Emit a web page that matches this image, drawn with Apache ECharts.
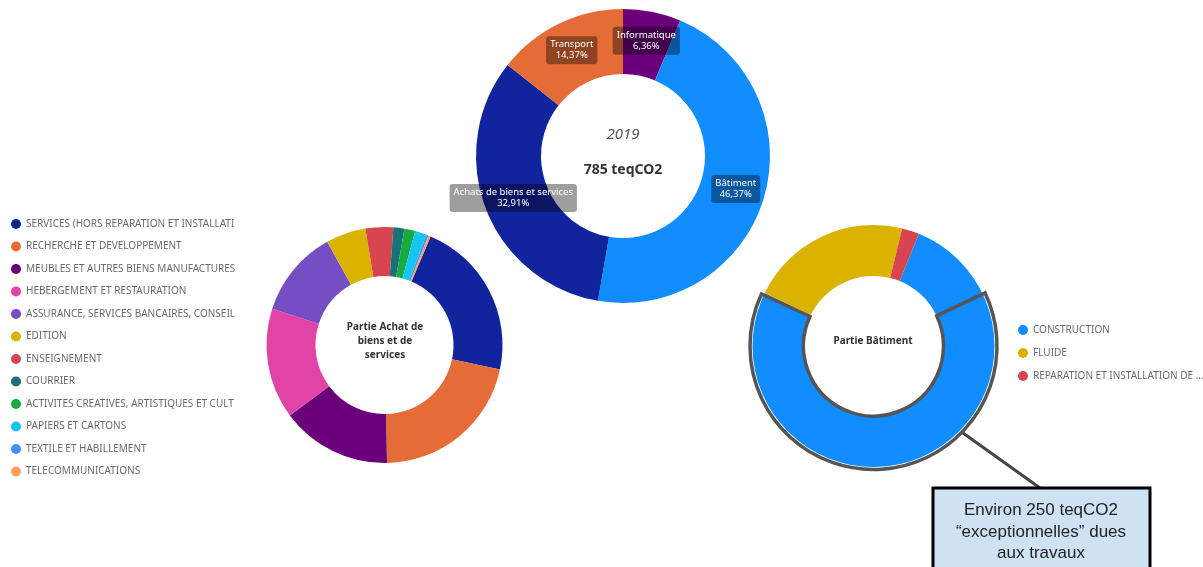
<!DOCTYPE html>
<html>
<head>
<meta charset="utf-8">
<script src="https://cdn.jsdelivr.net/npm/echarts@6/dist/echarts.min.js"></script>
<style>
html,body{margin:0;padding:0;background:#fff;}
#c{width:1203px;height:567px;}
</style>
</head>
<body>
<div id="c"></div>
<script>
// ---- Data ----
var mainCategories = ['Informatique', 'Bâtiment', 'Achats de biens et services', 'Transport'];
var mainValues = [6.36, 46.37, 32.91, 14.37];
var mainColors = ['#6B007B', '#118DFF', '#12239E', '#E66C37'];

var achatCategories = [
  'SERVICES (HORS REPARATION ET INSTALLATION)',
  'RECHERCHE ET DEVELOPPEMENT',
  'MEUBLES ET AUTRES BIENS MANUFACTURES',
  'HEBERGEMENT ET RESTAURATION',
  'ASSURANCE, SERVICES BANCAIRES, CONSEIL',
  'EDITION',
  'ENSEIGNEMENT',
  'COURRIER',
  'ACTIVITES CREATIVES, ARTISTIQUES ET CULTURELLES',
  'PAPIERS ET CARTONS',
  'TEXTILE ET HABILLEMENT',
  'TELECOMMUNICATIONS'
];
var achatValues = [22.0, 21.4, 15.2, 15.2, 12.0, 5.5, 3.8, 1.5, 1.5, 1.6, 0.3, 0.3];
var achatColors = ['#12239E', '#E66C37', '#6B007B', '#E044A7', '#744EC2', '#D9B300', '#D64550', '#197278', '#1AAB40', '#15C6F4', '#4092FF', '#FFA058'];

var batCategories = ['CONSTRUCTION', 'FLUIDE', 'REPARATION ET INSTALLATION DE MACHINES ET EQUIPEMENTS'];
var batValues = [76.1, 21.6, 2.3];
var batColors = ['#118DFF', '#D9B300', '#D64550'];

// share of the Bâtiment ring outlined as "exceptional" (highlight, rest)
var highlightShares = [64.0, 36.0];

var mainYear = '2019';
var mainTotal = '785 teqCO2';
var calloutLines = ['Environ 250 teqCO2', '\u201Cexceptionnelles\u201D dues', 'aux travaux'];

// ---- Chart ----
var chart = echarts.init(document.getElementById('c'), null, {renderer: 'canvas'});
var FONT = 'Noto Sans';

function mk(names, values, colors) {
  return names.map(function (n, i) { return {name: n, value: values[i], itemStyle: {color: colors[i]}}; });
}

var option = {
  animation: false,
  legend: [
    {
      orient: 'vertical', left: 6, top: 213,
      itemWidth: 10, itemHeight: 10, itemGap: 10.5, icon: 'circle',
      selectedMode: false,
      data: achatCategories,
      textStyle: {color: '#6a6a6a', fontSize: 10, fontFamily: FONT, lineHeight: 12,
        width: 211, overflow: 'truncate', ellipsis: ''}
    },
    {
      orient: 'vertical', left: 1013, top: 319,
      itemWidth: 10, itemHeight: 10, itemGap: 11, icon: 'circle',
      selectedMode: false,
      data: batCategories,
      textStyle: {color: '#6a6a6a', fontSize: 10, fontFamily: FONT, lineHeight: 12,
        width: 172, overflow: 'truncate'}
    }
  ],
  series: [
    {
      type: 'pie', silent: true,
      center: [623, 156], radius: [82, 147],
      startAngle: 90, clockwise: true,
      data: mk(mainCategories, mainValues, mainColors),
      label: {
        show: true, position: 'inside',
        formatter: function (p) { return p.name + '\n' + p.value.toFixed(2).replace('.', ',') + '%'; },
        color: '#fff', fontSize: 9.5, fontFamily: FONT, lineHeight: 11,
        backgroundColor: 'rgba(0,0,0,0.38)', borderRadius: 3, padding: [3, 4]
      },
      labelLine: {show: false}
    },
    {
      type: 'pie', silent: true,
      center: [384.5, 345], radius: [69, 118],
      startAngle: 67, clockwise: true,
      data: mk(achatCategories, achatValues, achatColors),
      label: {show: false}, labelLine: {show: false}
    },
    {
      type: 'pie', silent: true,
      center: [873.5, 346], radius: [70, 121],
      startAngle: 68, clockwise: true,
      data: mk(batCategories, batValues, batColors),
      label: {show: false}, labelLine: {show: false}
    },
    {
      type: 'pie', silent: true,
      center: [873.5, 346], radius: [70, 123.5],
      startAngle: 90 - 64.5, clockwise: true,
      data: [
        {name: 'hl', value: highlightShares[0], itemStyle: {color: 'rgba(0,0,0,0)', borderColor: '#555', borderWidth: 3.5, borderJoin: 'miter'}},
        {name: 'rest', value: highlightShares[1], itemStyle: {color: 'rgba(0,0,0,0)', borderWidth: 0}}
      ],
      label: {show: false}, labelLine: {show: false}, z: 5
    }
  ],
  graphic: [
    {type: 'text', style: {text: mainYear, x: 623, y: 135, align: 'center', verticalAlign: 'middle',
      font: 'italic 15px "' + FONT + '"', fill: '#555'}},
    {type: 'text', style: {text: mainTotal, x: 623, y: 170, align: 'center', verticalAlign: 'middle',
      font: 'bold 14px "' + FONT + '"', fill: '#333'}},
    {type: 'text', style: {text: 'Partie Achat de\nbiens et de\nservices', x: 385, y: 341, align: 'center', verticalAlign: 'middle',
      font: 'bold 10px "' + FONT + '"', fill: '#333', lineHeight: 14}},
    {type: 'text', style: {text: 'Partie Bâtiment', x: 873, y: 341, align: 'center', verticalAlign: 'middle',
      font: 'bold 10px "' + FONT + '"', fill: '#333'}},
    {type: 'line', shape: {x1: 963, y1: 433, x2: 1040, y2: 488}, style: {stroke: '#444', lineWidth: 3}, z: 10},
    {type: 'rect', shape: {x: 933, y: 488, width: 217, height: 100}, style: {fill: '#cfe2f3', stroke: '#000', lineWidth: 3}, z: 10},
    {type: 'text', style: {text: calloutLines.join('\n'), x: 1041, y: 500, align: 'center', verticalAlign: 'top',
      font: '17px "Liberation Sans", Arial', fill: '#222', lineHeight: 21.5}, z: 11}
  ]
};
chart.setOption(option);
</script>
</body>
</html>
